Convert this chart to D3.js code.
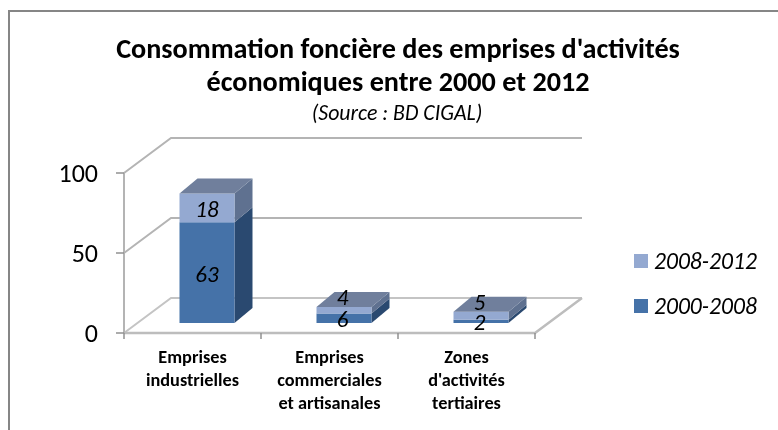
<!DOCTYPE html>
<html>
<head>
<meta charset="utf-8">
<script src="https://cdn.jsdelivr.net/npm/d3@7"></script>
<style>
body { margin: 0; background: #fff; }
svg { display: block; font-family: Carlito, Lato, "Open Sans", sans-serif; }
</style>
</head>
<body>
<div id="chart"></div>
<script>
'use strict';

var categories = [['Emprises', 'industrielles'], ['Emprises', 'commerciales', 'et artisanales'], ['Zones', "d'activités", 'tertiaires']];
var series = ['2000-2008', '2008-2012'];
var values2000 = [63, 6, 2];
var values2008 = [18, 4, 5];
var yTicks = [0, 50, 100];
var titleLines = ["Consommation foncière des emprises d'activités", 'économiques entre 2000 et 2012'];
var sourceLine = '(Source : BD CIGAL)';

var colors = {
    '2000-2008': { front: '#4472a8', side: '#2c4a70', top: '#6f84a8' },
    '2008-2012': { front: '#94a9d1', side: '#5f7190', top: '#6f7f9c' }
};
// depth of the chart floor, and of the boxes sitting in it
var wallDX = 47, wallDY = -35;
var barW = 55, barDX = 18, barDY = -15;

var root = d3.select('#chart').append('svg').attr('width', 778).attr('height', 430);

// the reference is a slightly blurred screenshot
root.append('filter').attr('id', 'soft')
    .attr('filterUnits', 'userSpaceOnUse')
    .attr('x', 0).attr('y', 0).attr('width', 778).attr('height', 430)
    .append('feGaussianBlur').attr('stdDeviation', 0.45);

var svg = root.append('g').attr('filter', 'url(#soft)');

svg.append('path')
    .attr('d', 'M9,430V11H778')
    .attr('fill', 'none').attr('stroke', '#868686').attr('stroke-width', 2);

var title = svg.append('g').attr('text-anchor', 'middle').attr('font-weight', 'bold').attr('font-size', 28.2);
titleLines.forEach(function (t, i) {
    title.append('text').attr('x', 398).attr('y', 58 + i * 33).text(t);
});
svg.append('text').attr('x', 397).attr('y', 120).attr('text-anchor', 'middle')
    .attr('font-style', 'italic').attr('font-size', 21.8).text(sourceLine);

var x = d3.scaleBand().domain(d3.range(categories.length)).range([124, 535]);
var y = d3.scaleLinear().domain([0, 100]).range([333, 173]);

// back grid lines and side wall
var wall = svg.append('g').attr('fill', 'none').attr('stroke-width', 2);
yTicks.forEach(function (t) {
    wall.append('path').attr('d', d3.line()([
        [x.range()[0], y(t)],
        [x.range()[0] + wallDX, y(t) + wallDY],
        [x.range()[1] + wallDX, y(t) + wallDY]
    ])).attr('stroke', t === 0 ? '#c4c4c4' : '#b4b4b4');
});
wall.append('path').attr('d', d3.line()([
    [x.range()[0], y(0)], [x.range()[1], y(0)], [x.range()[1] + wallDX, y(0) + wallDY]
])).attr('stroke', '#bdbdbd').attr('stroke-width', 2.5);

// front axes
var axisG = svg.append('g').attr('fill', 'none').attr('stroke', '#909090');
axisG.append('path').attr('d', d3.line()([[x.range()[0], y(100)], [x.range()[0], y(0)]]))
    .attr('stroke', '#b4b4b4').attr('stroke-width', 2);
yTicks.forEach(function (t) {
    axisG.append('line').attr('x1', 116).attr('x2', 124).attr('y1', y(t)).attr('y2', y(t)).attr('stroke-width', 1.5);
    svg.append('text').attr('x', 98).attr('y', y(t) + 9).attr('text-anchor', 'end')
        .attr('font-size', 26).text(t);
});
d3.range(categories.length + 1).forEach(function (i) {
    var px = i === categories.length ? x.range()[1] : x(i);
    axisG.append('line').attr('x1', px).attr('x2', px).attr('y1', 333).attr('y2', 339).attr('stroke-width', 1.5);
});

// bars: floor of the boxes is set back from the front axis
var barFloor = 10;
function drawBox(g, px, y0, y1, c) {
    g.append('path').attr('fill', c.side).attr('d', d3.line()([
        [px + barW, y1], [px + barW + barDX, y1 + barDY], [px + barW + barDX, y0 + barDY], [px + barW, y0]
    ]));
    g.append('path').attr('fill', c.front).attr('d', d3.line()([
        [px, y1], [px + barW, y1], [px + barW, y0], [px, y0]
    ]));
}
var labelFont = 23;
categories.forEach(function (cat, i) {
    var g = svg.append('g');
    var px = x(i) + 55.5;
    var base = y(0) - barFloor;
    var mid = y(values2000[i]) - barFloor;
    var top = y(values2000[i] + values2008[i]) - barFloor;
    drawBox(g, px, base, mid, colors['2000-2008']);
    drawBox(g, px, mid, top, colors['2008-2012']);
    g.append('path').attr('fill', colors['2008-2012'].top).attr('d', d3.line()([
        [px, top], [px + barW, top], [px + barW + barDX, top + barDY], [px + barDX, top + barDY]
    ]));
    var cx = px + barW / 2 - (i > 0 ? 1.5 : 0);
    svg.append('text').attr('x', cx).attr('y', (base + mid) / 2 + 9).attr('text-anchor', 'middle')
        .attr('font-style', 'italic').attr('font-size', labelFont).text(values2000[i]);
    // short boxes: the label of the upper part rides above its front face
    svg.append('text').attr('x', cx).attr('y', (i > 0 ? top - 10 : (mid + top) / 2 + 1) + 8).attr('text-anchor', 'middle')
        .attr('font-style', 'italic').attr('font-size', labelFont).text(values2008[i]);

    var label = svg.append('g').attr('text-anchor', 'middle').attr('font-weight', 'bold').attr('font-size', 18.3);
    cat.forEach(function (line, j) {
        label.append('text').attr('x', x(i) + x.bandwidth() / 2).attr('y', 363 + j * 23).text(line);
    });
});

// legend
var legendY = d3.scalePoint().domain(series.slice().reverse()).range([261, 306]);
series.forEach(function (s) {
    svg.append('rect').attr('x', 634).attr('y', legendY(s) - 7).attr('width', 14).attr('height', 14)
        .attr('fill', colors[s].front);
    svg.append('text').attr('x', 654).attr('y', legendY(s) + 8).attr('font-style', 'italic')
        .attr('font-size', 23.6).text(s);
});
</script>
</body>
</html>
